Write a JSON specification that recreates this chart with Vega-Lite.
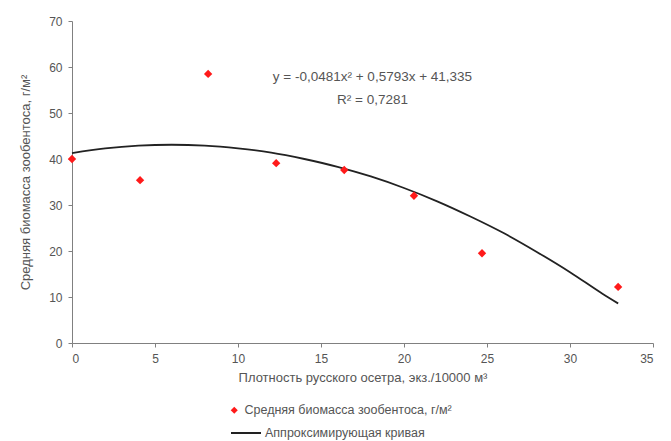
{
  "$schema": "https://vega.github.io/schema/vega-lite/v6.json",
  "width": 581,
  "height": 322,
  "autosize": {"type": "none"},
  "padding": {"left": 72, "top": 21, "right": 18, "bottom": 98},
  "background": "white",
  "config": {
    "view": {"stroke": null},
    "font": "Liberation Sans",
    "axis": {
      "grid": false,
      "domainColor": "#808080",
      "tickColor": "#808080",
      "labelColor": "#555555",
      "titleColor": "#555555",
      "labelFont": "Liberation Sans",
      "titleFont": "Liberation Sans",
      "labelFontSize": 12,
      "titleFontSize": 13,
      "titleFontWeight": "normal",
      "tickSize": 4
    },
    "legend": {
      "labelFont": "Liberation Sans",
      "labelFontSize": 12.5,
      "labelColor": "#555555",
      "labelLimit": 400
    }
  },
  "datasets": {
    "pts": [
      {"x": 0, "y": 40.0, "s": "Средняя биомасса зообентоса, г/м²"},
      {"x": 4.1, "y": 35.4, "s": "Средняя биомасса зообентоса, г/м²"},
      {"x": 8.2, "y": 58.5, "s": "Средняя биомасса зообентоса, г/м²"},
      {"x": 12.3, "y": 39.1, "s": "Средняя биомасса зообентоса, г/м²"},
      {"x": 16.4, "y": 37.6, "s": "Средняя биомасса зообентоса, г/м²"},
      {"x": 20.6, "y": 32.0, "s": "Средняя биомасса зообентоса, г/м²"},
      {"x": 24.7, "y": 19.5, "s": "Средняя биомасса зообентоса, г/м²"},
      {"x": 32.9, "y": 12.2, "s": "Средняя биомасса зообентоса, г/м²"}
    ],
    "curve": [
      {"x": 0, "y": 41.3, "s": "Аппроксимирующая кривая"},
      {"x": 2, "y": 42.3, "s": "Аппроксимирующая кривая"},
      {"x": 4, "y": 42.9, "s": "Аппроксимирующая кривая"},
      {"x": 6, "y": 43.1, "s": "Аппроксимирующая кривая"},
      {"x": 8, "y": 42.9, "s": "Аппроксимирующая кривая"},
      {"x": 10, "y": 42.3, "s": "Аппроксимирующая кривая"},
      {"x": 12, "y": 41.4, "s": "Аппроксимирующая кривая"},
      {"x": 14, "y": 40.0, "s": "Аппроксимирующая кривая"},
      {"x": 16, "y": 38.3, "s": "Аппроксимирующая кривая"},
      {"x": 18, "y": 36.2, "s": "Аппроксимирующая кривая"},
      {"x": 20, "y": 33.7, "s": "Аппроксимирующая кривая"},
      {"x": 22, "y": 30.8, "s": "Аппроксимирующая кривая"},
      {"x": 24, "y": 27.5, "s": "Аппроксимирующая кривая"},
      {"x": 26, "y": 23.9, "s": "Аппроксимирующая кривая"},
      {"x": 28, "y": 19.8, "s": "Аппроксимирующая кривая"},
      {"x": 30, "y": 15.4, "s": "Аппроксимирующая кривая"},
      {"x": 32, "y": 10.6, "s": "Аппроксимирующая кривая"},
      {"x": 32.9, "y": 8.6, "s": "Аппроксимирующая кривая"}
    ],
    "notes": [
      {"x": 18.1, "y": 57.8, "t": "y = -0,0481x² + 0,5793x + 41,335"},
      {"x": 18.1, "y": 52.8, "t": "R² = 0,7281"}
    ]
  },
  "encoding": {
    "x": {
      "field": "x", "type": "quantitative",
      "scale": {"domain": [0, 35], "nice": false, "zero": false},
      "axis": {"values": [0, 5, 10, 15, 20, 25, 30, 35], "title": "Плотность русского осетра, экз./10000 м³", "labelPadding": 6, "titlePadding": 7}
    },
    "y": {
      "field": "y", "type": "quantitative",
      "scale": {"domain": [0, 70], "nice": false},
      "axis": {"values": [0, 10, 20, 30, 40, 50, 60, 70], "title": "Средняя биомасса зообентоса, г/м²", "labelPadding": 6, "titlePadding": 16}
    }
  },
  "layer": [
    {
      "data": {"name": "curve"},
      "mark": {"type": "line", "strokeWidth": 1.8, "interpolate": "monotone"},
      "encoding": {
        "stroke": {
          "field": "s", "type": "nominal",
          "scale": {"range": ["#222222"]},
          "legend": {"title": null, "orient": "none", "legendX": 158, "legendY": 396, "symbolType": "stroke", "symbolSize": 900, "symbolStrokeWidth": 2, "symbolStrokeColor": "#222222", "labelOffset": 3}
        }
      }
    },
    {
      "data": {"name": "pts"},
      "mark": {"type": "point", "shape": "diamond", "filled": true, "size": 70, "opacity": 1},
      "encoding": {
        "fill": {
          "field": "s", "type": "nominal",
          "scale": {"range": ["#ff1a1a"]},
          "legend": {"title": null, "orient": "none", "legendX": 156, "legendY": 383, "symbolType": "diamond", "symbolSize": 50, "symbolFillColor": "#ff1a1a", "symbolStrokeWidth": 0}
        }
      }
    },
    {
      "data": {"name": "notes"},
      "mark": {"type": "text", "font": "Liberation Sans", "fontSize": 13.5, "color": "#555555", "align": "center", "baseline": "middle"},
      "encoding": {"text": {"field": "t", "type": "nominal"}}
    }
  ]
}
